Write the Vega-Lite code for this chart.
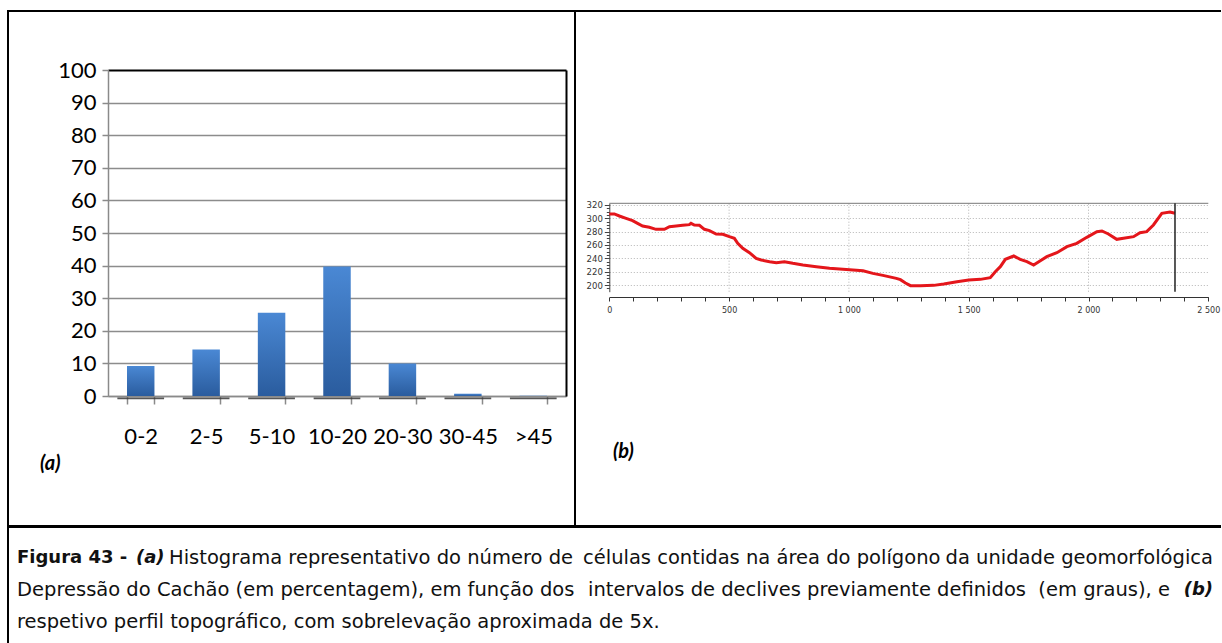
{
  "$schema": "https://vega.github.io/schema/vega-lite/v6.json",
  "padding": {"left": 7, "top": 10, "right": 0, "bottom": 0},
  "autosize": {"type": "pad"},
  "background": "white",
  "config": {"view": {"stroke": null}},
  "spacing": -2,
  "vconcat": [
    {
      "bounds": "flush",
      "spacing": 0,
      "hconcat": [
        {
          "width": 567,
          "height": 515,
          "view": {"stroke": "black", "strokeWidth": 2},
          "title": {"text": "(a)", "orient": "bottom", "anchor": "start", "frame": "group", "offset": -72, "dx": 32, "font": "Lato", "fontSize": 20, "fontWeight": "bold", "fontStyle": "italic", "color": "black"},
          "data": {"values": [
            {"classe": "0-2", "pct": 9.2},
            {"classe": "2-5", "pct": 14.3},
            {"classe": "5-10", "pct": 25.5},
            {"classe": "10-20", "pct": 39.7},
            {"classe": "20-30", "pct": 10.0},
            {"classe": "30-45", "pct": 0.7},
            {"classe": ">45", "pct": 0.1}
          ]},
          "resolve": {"axis": {"y": "independent"}},
          "layer": [
            {
              "mark": {"type": "bar", "color": {"gradient": "linear", "x1": 0, "y1": 0, "x2": 0, "y2": 1, "stops": [{"offset": 0, "color": "#4a88d4"}, {"offset": 1, "color": "#2a5c9e"}]}},
              "encoding": {
                "x": {"field": "classe", "type": "nominal", "sort": null,
                  "scale": {"domain": ["0-2", "2-5", "5-10", "10-20", "20-30", "30-45", ">45"], "range": [100, 558], "paddingInner": 0.58, "paddingOuter": 0.29},
                  "axis": {"orient": "bottom", "offset": -130, "tickBand": "extent", "title": null, "grid": false, "labelAngle": 0, "domainColor": "#8a8a8a", "domainWidth": 1.5, "tickColor": "#8a8a8a", "tickWidth": 1.5, "tickSize": 8, "labelFont": "Lato", "labelFontSize": 22, "labelColor": "black", "labelPadding": 22, "labelOverlap": false}},
                "y": {"field": "pct", "type": "quantitative",
                  "scale": {"domain": [0, 100], "range": [385, 59], "nice": false, "zero": true},
                  "axis": {"orient": "left", "offset": -100, "values": [0, 10, 20, 30, 40, 50, 60, 70, 80, 90, 100], "title": null, "grid": true,
                    "gridColor": {"condition": {"test": "datum.value === 100", "value": "black"}, "value": "#8c8c8c"},
                    "gridWidth": {"condition": {"test": "datum.value === 100", "value": 2}, "value": 1.3},
                    "domainColor": "#8a8a8a", "domainWidth": 1.5, "tickColor": "#8a8a8a", "tickWidth": 1.5, "tickSize": 6,
                    "labelFont": "Lato", "labelFontSize": 22, "labelColor": "black", "labelPadding": 6, "labelOverlap": false}}
              }
            },
            {
              "mark": {"type": "bar", "color": "#3a3a3a", "opacity": 0.85, "width": {"band": 1.7}},
              "encoding": {
                "x": {"field": "classe", "type": "nominal", "sort": null},
                "y": {"datum": -0.45, "type": "quantitative", "axis": null},
                "y2": {"datum": -1.0}
              }
            },
            {
              "mark": {"type": "point", "opacity": 0},
              "encoding": {
                "x": {"field": "classe", "type": "nominal", "sort": null},
                "y": {"field": "pct", "type": "quantitative",
                  "axis": {"orient": "right", "offset": -9, "title": null, "grid": false, "labels": false, "ticks": false, "domainColor": "black", "domainWidth": 2}}
              }
            }
          ]
        },
        {
          "width": 646,
          "height": 515,
          "view": {"stroke": "black", "strokeWidth": 2, "strokeDash": [646, 515, 1161, 0]},
          "title": {"text": "(b)", "orient": "bottom", "anchor": "start", "frame": "group", "offset": -84, "dx": 38, "font": "Lato", "fontSize": 20, "fontWeight": "bold", "fontStyle": "italic", "color": "black"},
          "resolve": {"axis": {"x": "independent", "y": "independent"}},
          "layer": [
            {
              "data": {"values": [{"d": 500}, {"d": 1000}, {"d": 1500}, {"d": 2000}]},
              "mark": {"type": "rule", "color": "#b0b0b0", "strokeWidth": 1, "strokeDash": [1, 2]},
              "encoding": {
                "x": {"field": "d", "type": "quantitative", "axis": null},
                "y": {"datum": 190, "type": "quantitative", "axis": null},
                "y2": {"datum": 322.5}
              }
            },
            {
              "data": {"values": [
                {"dist": 0, "elev": 306.5}, {"dist": 21, "elev": 306.5}, {"dist": 42, "elev": 303.5}, {"dist": 70, "elev": 300},
                {"dist": 97, "elev": 296.5}, {"dist": 118, "elev": 292.5}, {"dist": 139, "elev": 288.5}, {"dist": 167, "elev": 286.5},
                {"dist": 195, "elev": 283.5}, {"dist": 230, "elev": 283.5}, {"dist": 251, "elev": 287.5}, {"dist": 279, "elev": 288.5},
                {"dist": 306, "elev": 289.5}, {"dist": 334, "elev": 290.5}, {"dist": 341, "elev": 292.5}, {"dist": 355, "elev": 290},
                {"dist": 376, "elev": 289.5}, {"dist": 397, "elev": 283.5}, {"dist": 418, "elev": 281.5}, {"dist": 446, "elev": 276.5},
                {"dist": 474, "elev": 276}, {"dist": 501, "elev": 272.5}, {"dist": 522, "elev": 270}, {"dist": 536, "elev": 262.5},
                {"dist": 557, "elev": 255}, {"dist": 585, "elev": 248.5}, {"dist": 613, "elev": 240}, {"dist": 634, "elev": 237.5},
                {"dist": 669, "elev": 235}, {"dist": 697, "elev": 233.5}, {"dist": 731, "elev": 235}, {"dist": 766, "elev": 232.5},
                {"dist": 808, "elev": 230}, {"dist": 864, "elev": 227.5}, {"dist": 919, "elev": 225}, {"dist": 975, "elev": 223.5},
                {"dist": 1017, "elev": 222.5}, {"dist": 1059, "elev": 221.5}, {"dist": 1100, "elev": 217.5}, {"dist": 1142, "elev": 214.5},
                {"dist": 1198, "elev": 210}, {"dist": 1215, "elev": 208}, {"dist": 1236, "elev": 203}, {"dist": 1257, "elev": 199},
                {"dist": 1299, "elev": 199}, {"dist": 1354, "elev": 199.5}, {"dist": 1396, "elev": 201.5}, {"dist": 1451, "elev": 205},
                {"dist": 1500, "elev": 207.5}, {"dist": 1549, "elev": 208.5}, {"dist": 1590, "elev": 211}, {"dist": 1611, "elev": 220},
                {"dist": 1632, "elev": 227.5}, {"dist": 1653, "elev": 238.5}, {"dist": 1688, "elev": 243.5}, {"dist": 1715, "elev": 238.5},
                {"dist": 1743, "elev": 235}, {"dist": 1771, "elev": 230}, {"dist": 1799, "elev": 236.5}, {"dist": 1826, "elev": 242.5},
                {"dist": 1868, "elev": 248.5}, {"dist": 1910, "elev": 257.5}, {"dist": 1951, "elev": 262.5}, {"dist": 1993, "elev": 271.5},
                {"dist": 2035, "elev": 280}, {"dist": 2056, "elev": 281}, {"dist": 2083, "elev": 276.5}, {"dist": 2118, "elev": 268.5},
                {"dist": 2146, "elev": 270}, {"dist": 2188, "elev": 272.5}, {"dist": 2215, "elev": 278.5}, {"dist": 2243, "elev": 280},
                {"dist": 2271, "elev": 290}, {"dist": 2306, "elev": 307.5}, {"dist": 2340, "elev": 309.5}, {"dist": 2361, "elev": 307.5}
              ]},
              "mark": {"type": "line", "color": "#e4161b", "strokeWidth": 3},
              "encoding": {
                "x": {"field": "dist", "type": "quantitative",
                  "scale": {"domain": [0, 2500], "range": [34.3, 633.3], "nice": false, "zero": false},
                  "axis": {"orient": "bottom", "offset": -229, "title": null,
                    "values": [0, 100, 200, 300, 400, 500, 600, 700, 800, 900, 1000, 1100, 1200, 1300, 1400, 1500, 1600, 1700, 1800, 1900, 2000, 2100, 2200, 2300, 2400, 2500],
                    "labelExpr": "datum.value % 500 === 0 ? replace(format(datum.value, ',d'), ',', ' ') : ''",
                    "labelFont": "DejaVu Sans", "labelFontSize": 8, "labelColor": "#333333", "labelPadding": 5, "labelFlush": false, "labelOverlap": false,
                    "tickSize": 4, "tickColor": "#333333", "domainColor": "#333333", "grid": false}},
                "y": {"field": "elev", "type": "quantitative",
                  "scale": {"domain": [190, 322.5], "range": [280.7, 192.3], "nice": false, "zero": false},
                  "axis": {"orient": "left", "offset": -34.3, "title": null,
                    "values": [195, 200, 205, 210, 215, 220, 225, 230, 235, 240, 245, 250, 255, 260, 265, 270, 275, 280, 285, 290, 295, 300, 305, 310, 315, 320],
                    "labelExpr": "datum.value % 20 === 0 ? '' + datum.value : ''",
                    "labelFont": "DejaVu Sans", "labelFontSize": 8.5, "labelColor": "#333333", "labelPadding": 2, "labelOverlap": false,
                    "tickSize": {"condition": {"test": "datum.value % 20 === 0", "value": 5}, "value": 3},
                    "tickColor": "#444444", "domainColor": "#444444",
                    "grid": true, "gridColor": "#b5b5b5", "gridDash": [1, 2],
                    "gridOpacity": {"condition": {"test": "datum.value % 20 === 0", "value": 1}, "value": 0}}}
              }
            },
            {
              "data": {"values": [{}]},
              "mark": {"type": "rule", "color": "#777777", "strokeWidth": 1},
              "encoding": {
                "x": {"datum": 0, "type": "quantitative", "axis": null},
                "x2": {"datum": 2500},
                "y": {"datum": 322.5, "type": "quantitative", "axis": null}
              }
            },
            {
              "data": {"values": [{}]},
              "mark": {"type": "rule", "color": "#222222", "strokeWidth": 1.5},
              "encoding": {
                "x": {"datum": 2361, "type": "quantitative", "axis": null},
                "y": {"datum": 190, "type": "quantitative", "axis": null},
                "y2": {"datum": 322.5}
              }
            }
          ]
        }
      ]
    },
    {
      "width": 1213,
      "height": 116,
      "view": {"stroke": "black", "strokeWidth": 2, "strokeDash": [1213, 1329, 116, 0]},
      "encoding": {
        "x": {"value": 9},
        "y": {"field": "line", "type": "ordinal", "scale": {"type": "point", "domain": [1, 2, 3], "range": [31, 95], "padding": 0}, "axis": null},
        "text": {"field": "text"}
      },
      "layer": [
        {
          "data": {"values": [{"line": 1, "text": "Figura 43 -"}]},
          "mark": {"type": "text", "align": "left", "baseline": "middle", "font": "DejaVu Sans", "fontSize": 18, "fontWeight": "bold", "color": "#111111"}
        },
        {
          "data": {"values": [{"line": 1, "text": "(a)"}]},
          "mark": {"type": "text", "align": "left", "baseline": "middle", "font": "DejaVu Sans", "fontSize": 18, "fontWeight": "bold", "fontStyle": "italic", "color": "#111111", "dx": 119}
        },
        {
          "data": {"values": [{"line": 2, "text": "(b)"}]},
          "mark": {"type": "text", "align": "right", "baseline": "middle", "font": "DejaVu Sans", "fontSize": 18, "fontWeight": "bold", "fontStyle": "italic", "color": "#111111", "dx": 1196}
        },
        {
          "data": {"values": [{"line": 1, "text": "Histograma representativo do número de"}]},
          "mark": {"type": "text", "align": "left", "baseline": "middle", "font": "DejaVu Sans", "fontSize": 19.5, "color": "#111111", "dx": 152}
        },
        {
          "data": {"values": [
            {"line": 2, "text": "Depressão do Cachão (em percentagem), em função dos"},
            {"line": 3, "text": "respetivo perfil topográfico, com sobrelevação aproximada de 5x."}
          ]},
          "mark": {"type": "text", "align": "left", "baseline": "middle", "font": "DejaVu Sans", "fontSize": 19.5, "color": "#111111"}
        },
        {
          "data": {"values": [{"line": 1, "text": "células contidas na área do polígono"}]},
          "mark": {"type": "text", "align": "left", "baseline": "middle", "font": "DejaVu Sans", "fontSize": 19.5, "color": "#111111", "dx": 566}
        },
        {
          "data": {"values": [{"line": 2, "text": "intervalos de declives previamente definidos"}]},
          "mark": {"type": "text", "align": "left", "baseline": "middle", "font": "DejaVu Sans", "fontSize": 19.5, "color": "#111111", "dx": 571}
        },
        {
          "data": {"values": [{"line": 1, "text": "da unidade geomorfológica"}]},
          "mark": {"type": "text", "align": "right", "baseline": "middle", "font": "DejaVu Sans", "fontSize": 19.5, "color": "#111111", "dx": 1196}
        },
        {
          "data": {"values": [{"line": 2, "text": "(em graus), e"}]},
          "mark": {"type": "text", "align": "right", "baseline": "middle", "font": "DejaVu Sans", "fontSize": 19.5, "color": "#111111", "dx": 1153}
        }
      ]
    }
  ]
}
